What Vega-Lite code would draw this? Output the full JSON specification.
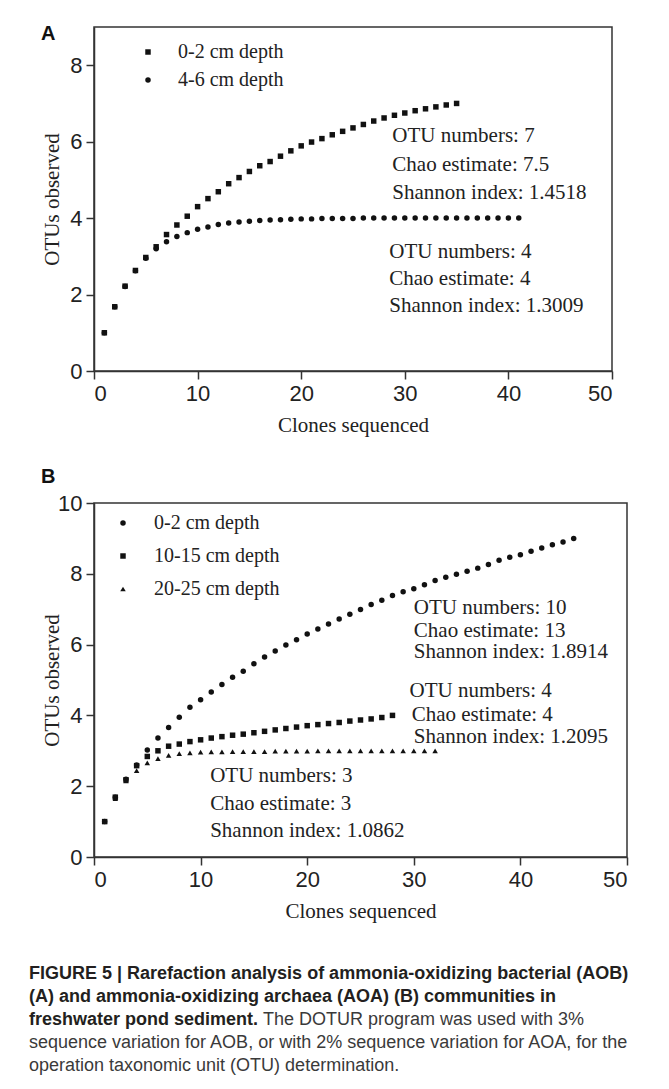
{
  "$schema": "https://vega.github.io/schema/vega-lite/v6.json",
  "background": "white",
  "padding": {"left": 29, "top": 23, "right": 0, "bottom": 0},
  "spacing": 30,
  "config": {
    "view": {"stroke": "#333", "strokeWidth": 1.5},
    "axis": {
      "labelFont": "Liberation Sans", "labelFontSize": 22, "labelColor": "#222",
      "titleFont": "Liberation Serif", "titleFontSize": 21, "titleFontWeight": "normal", "titleColor": "#222",
      "domainColor": "#333", "tickColor": "#333", "domainWidth": 1.5, "tickWidth": 1.5,
      "grid": false, "tickSize": 8, "labelPadding": 4
    },
    "axisY": {"minExtent": 24, "maxExtent": 24, "titlePadding": 8},
    "axisX": {"titlePadding": 10},
    "legend": {
      "labelFont": "Liberation Serif", "labelFontSize": 20, "labelColor": "#222",
      "symbolFillColor": "#111", "symbolStrokeWidth": 0, "symbolSize": 30,
      "padding": 0, "title": null, "orient": "none"
    },
    "title": {"font": "Liberation Sans", "fontSize": 20, "fontWeight": "bold", "color": "#111", "anchor": "start", "frame": "bounds"}
  },
  "resolve": {"scale": {"shape": "independent"}, "legend": {"shape": "independent"}},
  "datasets": {
    "aCurves": [
      {"depth": "0-2 cm depth", "clones": 1, "otus": 1.0},
      {"depth": "0-2 cm depth", "clones": 2, "otus": 1.68},
      {"depth": "0-2 cm depth", "clones": 3, "otus": 2.22},
      {"depth": "0-2 cm depth", "clones": 4, "otus": 2.63},
      {"depth": "0-2 cm depth", "clones": 5, "otus": 2.97},
      {"depth": "0-2 cm depth", "clones": 6, "otus": 3.25},
      {"depth": "0-2 cm depth", "clones": 7, "otus": 3.57},
      {"depth": "0-2 cm depth", "clones": 8, "otus": 3.82},
      {"depth": "0-2 cm depth", "clones": 9, "otus": 4.05},
      {"depth": "0-2 cm depth", "clones": 10, "otus": 4.30},
      {"depth": "0-2 cm depth", "clones": 11, "otus": 4.51},
      {"depth": "0-2 cm depth", "clones": 12, "otus": 4.69},
      {"depth": "0-2 cm depth", "clones": 13, "otus": 4.90},
      {"depth": "0-2 cm depth", "clones": 14, "otus": 5.06},
      {"depth": "0-2 cm depth", "clones": 15, "otus": 5.22},
      {"depth": "0-2 cm depth", "clones": 16, "otus": 5.37},
      {"depth": "0-2 cm depth", "clones": 17, "otus": 5.48},
      {"depth": "0-2 cm depth", "clones": 18, "otus": 5.62},
      {"depth": "0-2 cm depth", "clones": 19, "otus": 5.76},
      {"depth": "0-2 cm depth", "clones": 20, "otus": 5.89},
      {"depth": "0-2 cm depth", "clones": 21, "otus": 5.99},
      {"depth": "0-2 cm depth", "clones": 22, "otus": 6.08},
      {"depth": "0-2 cm depth", "clones": 23, "otus": 6.18},
      {"depth": "0-2 cm depth", "clones": 24, "otus": 6.27},
      {"depth": "0-2 cm depth", "clones": 25, "otus": 6.36},
      {"depth": "0-2 cm depth", "clones": 26, "otus": 6.45},
      {"depth": "0-2 cm depth", "clones": 27, "otus": 6.54},
      {"depth": "0-2 cm depth", "clones": 28, "otus": 6.62},
      {"depth": "0-2 cm depth", "clones": 29, "otus": 6.69},
      {"depth": "0-2 cm depth", "clones": 30, "otus": 6.75},
      {"depth": "0-2 cm depth", "clones": 31, "otus": 6.81},
      {"depth": "0-2 cm depth", "clones": 32, "otus": 6.86},
      {"depth": "0-2 cm depth", "clones": 33, "otus": 6.91},
      {"depth": "0-2 cm depth", "clones": 34, "otus": 6.96},
      {"depth": "0-2 cm depth", "clones": 35, "otus": 7.0},
      {"depth": "4-6 cm depth", "clones": 1, "otus": 1.0},
      {"depth": "4-6 cm depth", "clones": 2, "otus": 1.68},
      {"depth": "4-6 cm depth", "clones": 3, "otus": 2.21},
      {"depth": "4-6 cm depth", "clones": 4, "otus": 2.62},
      {"depth": "4-6 cm depth", "clones": 5, "otus": 2.95},
      {"depth": "4-6 cm depth", "clones": 6, "otus": 3.2},
      {"depth": "4-6 cm depth", "clones": 7, "otus": 3.38},
      {"depth": "4-6 cm depth", "clones": 8, "otus": 3.52},
      {"depth": "4-6 cm depth", "clones": 9, "otus": 3.62},
      {"depth": "4-6 cm depth", "clones": 10, "otus": 3.71},
      {"depth": "4-6 cm depth", "clones": 11, "otus": 3.77},
      {"depth": "4-6 cm depth", "clones": 12, "otus": 3.83},
      {"depth": "4-6 cm depth", "clones": 13, "otus": 3.87},
      {"depth": "4-6 cm depth", "clones": 14, "otus": 3.90},
      {"depth": "4-6 cm depth", "clones": 15, "otus": 3.92},
      {"depth": "4-6 cm depth", "clones": 16, "otus": 3.94},
      {"depth": "4-6 cm depth", "clones": 17, "otus": 3.95},
      {"depth": "4-6 cm depth", "clones": 18, "otus": 3.96},
      {"depth": "4-6 cm depth", "clones": 19, "otus": 3.97},
      {"depth": "4-6 cm depth", "clones": 20, "otus": 3.98},
      {"depth": "4-6 cm depth", "clones": 21, "otus": 3.98},
      {"depth": "4-6 cm depth", "clones": 22, "otus": 3.99},
      {"depth": "4-6 cm depth", "clones": 23, "otus": 3.99},
      {"depth": "4-6 cm depth", "clones": 24, "otus": 3.99},
      {"depth": "4-6 cm depth", "clones": 25, "otus": 3.99},
      {"depth": "4-6 cm depth", "clones": 26, "otus": 4.0},
      {"depth": "4-6 cm depth", "clones": 27, "otus": 4.0},
      {"depth": "4-6 cm depth", "clones": 28, "otus": 4.0},
      {"depth": "4-6 cm depth", "clones": 29, "otus": 4.0},
      {"depth": "4-6 cm depth", "clones": 30, "otus": 4.0},
      {"depth": "4-6 cm depth", "clones": 31, "otus": 4.0},
      {"depth": "4-6 cm depth", "clones": 32, "otus": 4.0},
      {"depth": "4-6 cm depth", "clones": 33, "otus": 4.0},
      {"depth": "4-6 cm depth", "clones": 34, "otus": 4.0},
      {"depth": "4-6 cm depth", "clones": 35, "otus": 4.0},
      {"depth": "4-6 cm depth", "clones": 36, "otus": 4.0},
      {"depth": "4-6 cm depth", "clones": 37, "otus": 4.0},
      {"depth": "4-6 cm depth", "clones": 38, "otus": 4.0},
      {"depth": "4-6 cm depth", "clones": 39, "otus": 4.0},
      {"depth": "4-6 cm depth", "clones": 40, "otus": 4.0},
      {"depth": "4-6 cm depth", "clones": 41, "otus": 4.0}
    ],
    "aNotes": [
      {"x": 28.8, "y": 6.14, "label": "OTU numbers: 7"},
      {"x": 28.8, "y": 5.39, "label": "Chao estimate: 7.5"},
      {"x": 28.8, "y": 4.65, "label": "Shannon index: 1.4518"},
      {"x": 28.5, "y": 3.11, "label": "OTU numbers: 4"},
      {"x": 28.5, "y": 2.41, "label": "Chao estimate: 4"},
      {"x": 28.5, "y": 1.70, "label": "Shannon index: 1.3009"}
    ],
    "bCurves": [
      {"depth": "0-2 cm depth", "clones": 1, "otus": 1.0},
      {"depth": "0-2 cm depth", "clones": 2, "otus": 1.69},
      {"depth": "0-2 cm depth", "clones": 3, "otus": 2.2},
      {"depth": "0-2 cm depth", "clones": 4, "otus": 2.6},
      {"depth": "0-2 cm depth", "clones": 5, "otus": 3.02},
      {"depth": "0-2 cm depth", "clones": 6, "otus": 3.36},
      {"depth": "0-2 cm depth", "clones": 7, "otus": 3.66},
      {"depth": "0-2 cm depth", "clones": 8, "otus": 3.95},
      {"depth": "0-2 cm depth", "clones": 9, "otus": 4.23},
      {"depth": "0-2 cm depth", "clones": 10, "otus": 4.44},
      {"depth": "0-2 cm depth", "clones": 11, "otus": 4.66},
      {"depth": "0-2 cm depth", "clones": 12, "otus": 4.87},
      {"depth": "0-2 cm depth", "clones": 13, "otus": 5.08},
      {"depth": "0-2 cm depth", "clones": 14, "otus": 5.25},
      {"depth": "0-2 cm depth", "clones": 15, "otus": 5.46},
      {"depth": "0-2 cm depth", "clones": 16, "otus": 5.65},
      {"depth": "0-2 cm depth", "clones": 17, "otus": 5.82},
      {"depth": "0-2 cm depth", "clones": 18, "otus": 5.99},
      {"depth": "0-2 cm depth", "clones": 19, "otus": 6.14},
      {"depth": "0-2 cm depth", "clones": 20, "otus": 6.30},
      {"depth": "0-2 cm depth", "clones": 21, "otus": 6.44},
      {"depth": "0-2 cm depth", "clones": 22, "otus": 6.58},
      {"depth": "0-2 cm depth", "clones": 23, "otus": 6.72},
      {"depth": "0-2 cm depth", "clones": 24, "otus": 6.86},
      {"depth": "0-2 cm depth", "clones": 25, "otus": 6.99},
      {"depth": "0-2 cm depth", "clones": 26, "otus": 7.13},
      {"depth": "0-2 cm depth", "clones": 27, "otus": 7.25},
      {"depth": "0-2 cm depth", "clones": 28, "otus": 7.39},
      {"depth": "0-2 cm depth", "clones": 29, "otus": 7.49},
      {"depth": "0-2 cm depth", "clones": 30, "otus": 7.58},
      {"depth": "0-2 cm depth", "clones": 31, "otus": 7.69},
      {"depth": "0-2 cm depth", "clones": 32, "otus": 7.81},
      {"depth": "0-2 cm depth", "clones": 33, "otus": 7.90},
      {"depth": "0-2 cm depth", "clones": 34, "otus": 7.99},
      {"depth": "0-2 cm depth", "clones": 35, "otus": 8.07},
      {"depth": "0-2 cm depth", "clones": 36, "otus": 8.16},
      {"depth": "0-2 cm depth", "clones": 37, "otus": 8.26},
      {"depth": "0-2 cm depth", "clones": 38, "otus": 8.38},
      {"depth": "0-2 cm depth", "clones": 39, "otus": 8.47},
      {"depth": "0-2 cm depth", "clones": 40, "otus": 8.54},
      {"depth": "0-2 cm depth", "clones": 41, "otus": 8.64},
      {"depth": "0-2 cm depth", "clones": 42, "otus": 8.73},
      {"depth": "0-2 cm depth", "clones": 43, "otus": 8.82},
      {"depth": "0-2 cm depth", "clones": 44, "otus": 8.90},
      {"depth": "0-2 cm depth", "clones": 45, "otus": 9.0},
      {"depth": "10-15 cm depth", "clones": 1, "otus": 1.0},
      {"depth": "10-15 cm depth", "clones": 2, "otus": 1.69},
      {"depth": "10-15 cm depth", "clones": 3, "otus": 2.18},
      {"depth": "10-15 cm depth", "clones": 4, "otus": 2.58},
      {"depth": "10-15 cm depth", "clones": 5, "otus": 2.84},
      {"depth": "10-15 cm depth", "clones": 6, "otus": 3.0},
      {"depth": "10-15 cm depth", "clones": 7, "otus": 3.13},
      {"depth": "10-15 cm depth", "clones": 8, "otus": 3.19},
      {"depth": "10-15 cm depth", "clones": 9, "otus": 3.26},
      {"depth": "10-15 cm depth", "clones": 10, "otus": 3.31},
      {"depth": "10-15 cm depth", "clones": 11, "otus": 3.36},
      {"depth": "10-15 cm depth", "clones": 12, "otus": 3.40},
      {"depth": "10-15 cm depth", "clones": 13, "otus": 3.44},
      {"depth": "10-15 cm depth", "clones": 14, "otus": 3.47},
      {"depth": "10-15 cm depth", "clones": 15, "otus": 3.51},
      {"depth": "10-15 cm depth", "clones": 16, "otus": 3.55},
      {"depth": "10-15 cm depth", "clones": 17, "otus": 3.59},
      {"depth": "10-15 cm depth", "clones": 18, "otus": 3.63},
      {"depth": "10-15 cm depth", "clones": 19, "otus": 3.67},
      {"depth": "10-15 cm depth", "clones": 20, "otus": 3.71},
      {"depth": "10-15 cm depth", "clones": 21, "otus": 3.74},
      {"depth": "10-15 cm depth", "clones": 22, "otus": 3.77},
      {"depth": "10-15 cm depth", "clones": 23, "otus": 3.80},
      {"depth": "10-15 cm depth", "clones": 24, "otus": 3.84},
      {"depth": "10-15 cm depth", "clones": 25, "otus": 3.87},
      {"depth": "10-15 cm depth", "clones": 26, "otus": 3.90},
      {"depth": "10-15 cm depth", "clones": 27, "otus": 3.94},
      {"depth": "10-15 cm depth", "clones": 28, "otus": 4.0},
      {"depth": "20-25 cm depth", "clones": 1, "otus": 1.0},
      {"depth": "20-25 cm depth", "clones": 2, "otus": 1.65},
      {"depth": "20-25 cm depth", "clones": 3, "otus": 2.15},
      {"depth": "20-25 cm depth", "clones": 4, "otus": 2.44},
      {"depth": "20-25 cm depth", "clones": 5, "otus": 2.66},
      {"depth": "20-25 cm depth", "clones": 6, "otus": 2.78},
      {"depth": "20-25 cm depth", "clones": 7, "otus": 2.87},
      {"depth": "20-25 cm depth", "clones": 8, "otus": 2.92},
      {"depth": "20-25 cm depth", "clones": 9, "otus": 2.94},
      {"depth": "20-25 cm depth", "clones": 10, "otus": 2.96},
      {"depth": "20-25 cm depth", "clones": 11, "otus": 2.97},
      {"depth": "20-25 cm depth", "clones": 12, "otus": 2.97},
      {"depth": "20-25 cm depth", "clones": 13, "otus": 2.98},
      {"depth": "20-25 cm depth", "clones": 14, "otus": 2.98},
      {"depth": "20-25 cm depth", "clones": 15, "otus": 2.98},
      {"depth": "20-25 cm depth", "clones": 16, "otus": 2.98},
      {"depth": "20-25 cm depth", "clones": 17, "otus": 2.99},
      {"depth": "20-25 cm depth", "clones": 18, "otus": 2.99},
      {"depth": "20-25 cm depth", "clones": 19, "otus": 2.99},
      {"depth": "20-25 cm depth", "clones": 20, "otus": 2.99},
      {"depth": "20-25 cm depth", "clones": 21, "otus": 3.0},
      {"depth": "20-25 cm depth", "clones": 22, "otus": 3.0},
      {"depth": "20-25 cm depth", "clones": 23, "otus": 3.0},
      {"depth": "20-25 cm depth", "clones": 24, "otus": 3.0},
      {"depth": "20-25 cm depth", "clones": 25, "otus": 3.0},
      {"depth": "20-25 cm depth", "clones": 26, "otus": 3.0},
      {"depth": "20-25 cm depth", "clones": 27, "otus": 3.0},
      {"depth": "20-25 cm depth", "clones": 28, "otus": 3.0},
      {"depth": "20-25 cm depth", "clones": 29, "otus": 3.0},
      {"depth": "20-25 cm depth", "clones": 30, "otus": 3.0},
      {"depth": "20-25 cm depth", "clones": 31, "otus": 3.0},
      {"depth": "20-25 cm depth", "clones": 32, "otus": 3.0}
    ],
    "bNotes": [
      {"x": 30.0, "y": 7.03, "label": "OTU numbers: 10"},
      {"x": 30.0, "y": 6.38, "label": "Chao estimate: 13"},
      {"x": 30.0, "y": 5.79, "label": "Shannon index: 1.8914"},
      {"x": 29.6, "y": 4.69, "label": "OTU numbers: 4"},
      {"x": 29.8, "y": 4.01, "label": "Chao estimate: 4"},
      {"x": 30.0, "y": 3.39, "label": "Shannon index: 1.2095"},
      {"x": 10.9, "y": 2.29, "label": "OTU numbers: 3"},
      {"x": 10.9, "y": 1.50, "label": "Chao estimate: 3"},
      {"x": 10.9, "y": 0.73, "label": "Shannon index: 1.0862"}
    ],
    "caption": [
      {"line": 0, "part": "bold", "text": "FIGURE 5 | Rarefaction analysis of ammonia-oxidizing bacterial (AOB)"},
      {"line": 1, "part": "bold", "text": "(A) and ammonia-oxidizing archaea (AOA) (B) communities in"},
      {"line": 2, "part": "bold", "text": "freshwater pond sediment."},
      {"line": 2, "part": "cont", "text": "The DOTUR program was used with 3%"},
      {"line": 3, "part": "normal", "text": "sequence variation for AOB, or with 2% sequence variation for AOA, for the"},
      {"line": 4, "part": "normal", "text": "operation taxonomic unit (OTU) determination."}
    ]
  },
  "vconcat": [
    {
      "width": 518,
      "height": 344,
      "title": {"text": "A", "baseline": "top", "offset": -17},
      "layer": [
        {
          "data": {"name": "aCurves"},
          "mark": {"type": "point", "filled": true, "opacity": 1, "color": "#111", "size": 30, "strokeWidth": 0},
          "encoding": {
            "x": {"field": "clones", "type": "quantitative", "title": "Clones sequenced",
                  "scale": {"domain": [0, 50], "nice": false},
                  "axis": {"values": [0, 10, 20, 30, 40, 50]}},
            "y": {"field": "otus", "type": "quantitative", "title": "OTUs observed",
                  "scale": {"domain": [0, 9], "nice": false},
                  "axis": {"values": [0, 2, 4, 6, 8]}},
            "shape": {"field": "depth", "type": "nominal",
                      "scale": {"domain": ["0-2 cm depth", "4-6 cm depth"], "range": ["square", "circle"]},
                      "legend": {"legendX": 44, "legendY": 15, "rowPadding": 8, "labelOffset": 20}}
          }
        },
        {
          "data": {"name": "aNotes"},
          "mark": {"type": "text", "align": "left", "baseline": "middle", "font": "Liberation Serif", "fontSize": 21, "color": "#222"},
          "encoding": {
            "x": {"field": "x", "type": "quantitative"},
            "y": {"field": "y", "type": "quantitative"},
            "text": {"field": "label"}
          }
        }
      ]
    },
    {
      "width": 533,
      "height": 354,
      "title": {"text": "B", "baseline": "top", "offset": 5},
      "layer": [
        {
          "data": {"name": "bCurves"},
          "mark": {"type": "point", "filled": true, "opacity": 1, "color": "#111", "size": 30, "strokeWidth": 0},
          "encoding": {
            "x": {"field": "clones", "type": "quantitative", "title": "Clones sequenced",
                  "scale": {"domain": [0, 50], "nice": false},
                  "axis": {"values": [0, 10, 20, 30, 40, 50]}},
            "y": {"field": "otus", "type": "quantitative", "title": "OTUs observed",
                  "scale": {"domain": [0, 10], "nice": false},
                  "axis": {"values": [0, 2, 4, 6, 8, 10]}},
            "shape": {"field": "depth", "type": "nominal",
                      "scale": {"domain": ["0-2 cm depth", "10-15 cm depth", "20-25 cm depth"], "range": ["circle", "square", "triangle-up"]},
                      "legend": {"legendX": 19, "legendY": 10, "rowPadding": 13, "labelOffset": 21}}
          }
        },
        {
          "data": {"name": "bNotes"},
          "mark": {"type": "text", "align": "left", "baseline": "middle", "font": "Liberation Serif", "fontSize": 21, "color": "#222"},
          "encoding": {
            "x": {"field": "x", "type": "quantitative"},
            "y": {"field": "y", "type": "quantitative"},
            "text": {"field": "label"}
          }
        }
      ]
    },
    {
      "width": 560,
      "height": 115,
      "view": {"stroke": null},
      "data": {"name": "caption"},
      "encoding": {
        "x": {"datum": 0, "type": "quantitative", "scale": {"domain": [0, 1]}, "axis": null},
        "y": {"field": "line", "type": "quantitative", "scale": {"domain": [-0.97, 4.03], "reverse": true}, "axis": null},
        "text": {"field": "text"}
      },
      "layer": [
        {
          "transform": [{"filter": "datum.part === 'bold'"}],
          "mark": {"type": "text", "align": "left", "baseline": "middle", "font": "Liberation Sans", "fontSize": 18, "fontWeight": "bold", "color": "#231f20", "dx": -65}
        },
        {
          "transform": [{"filter": "datum.part === 'cont'"}],
          "mark": {"type": "text", "align": "left", "baseline": "middle", "font": "Liberation Sans", "fontSize": 18, "color": "#3a3a3a", "dx": 169}
        },
        {
          "transform": [{"filter": "datum.part === 'normal'"}],
          "mark": {"type": "text", "align": "left", "baseline": "middle", "font": "Liberation Sans", "fontSize": 18, "color": "#3a3a3a", "dx": -65}
        }
      ]
    }
  ]
}
